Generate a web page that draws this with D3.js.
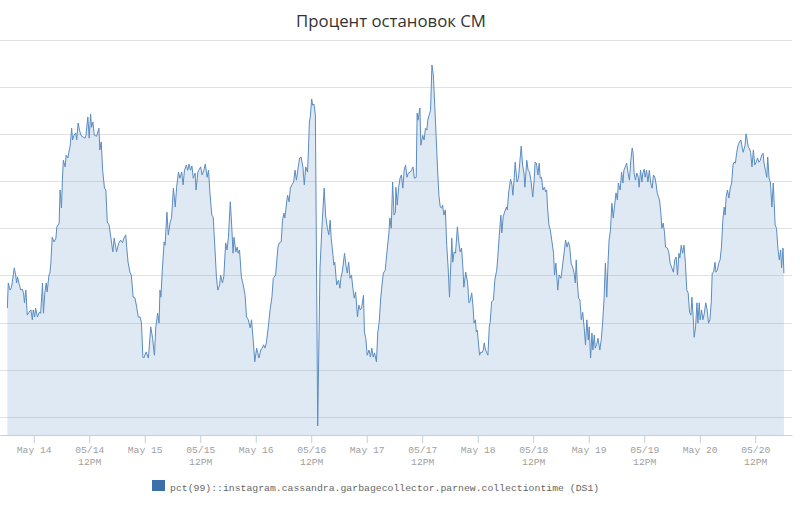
<!DOCTYPE html>
<html><head><meta charset="utf-8">
<script src="https://cdn.jsdelivr.net/npm/d3@7"></script>
<style>html,body{margin:0;padding:0;background:#fff;}svg{display:block;}</style>
</head><body><svg id="c" width="800" height="507"></svg>
<script>
const title = "Процент остановок СМ";
const seriesName = "pct(99)::instagram.cassandra.garbagecollector.parnew.collectiontime (DS1)";
// hours since 2013-05-13 18:00
const hours = [0.3,0.5,0.9,1.2,1.8,2.1,2.3,2.5,2.8,3.2,3.5,3.8,4.0,4.3,4.6,5.0,5.4,5.7,5.9,6.2,6.4,6.8,7.2,7.5,7.9,8.1,8.4,8.7,8.9,9.3,9.5,9.7,10.0,10.4,10.8,11.0,11.3,11.5,11.7,12.0,12.2,12.4,12.8,13.0,13.4,13.6,13.9,14.2,14.4,14.7,15.1,15.3,15.6,15.9,16.2,16.7,17.1,17.3,17.7,18.0,18.3,18.5,18.8,19.1,19.6,20.1,20.3,20.6,20.9,21.3,21.6,21.9,22.3,22.7,23.1,23.4,23.9,24.4,24.8,25.2,25.5,25.9,26.1,26.4,26.8,27.1,27.5,27.9,28.3,28.6,29.0,29.3,29.6,29.8,30.3,30.8,31.3,31.7,32.1,32.4,32.8,33.1,33.3,33.5,33.8,34.2,34.4,34.8,35.1,35.5,35.8,36.2,36.6,36.9,37.3,37.6,38.0,38.3,38.6,39.0,39.3,39.6,39.9,40.2,40.5,40.9,41.1,41.5,41.7,42.1,42.4,42.8,43.1,43.5,43.8,44.1,44.5,44.8,45.2,45.5,45.8,46.2,46.4,46.8,47.1,47.5,47.8,48.1,48.5,48.8,49.1,49.3,49.7,50.0,50.2,50.5,50.9,51.3,51.7,52.0,52.4,52.8,53.1,53.5,53.8,54.2,54.7,55.1,55.4,55.7,56.0,56.3,56.7,57.1,57.5,57.8,58.3,58.8,59.1,59.5,59.8,60.1,60.3,60.7,60.9,61.2,61.5,61.8,62.2,62.5,62.8,63.2,63.5,63.8,64.2,64.5,64.8,65.2,65.4,65.6,65.8,66.1,66.3,66.6,66.9,67.4,67.9,68.3,68.8,69.1,69.5,69.8,70.1,70.3,70.7,70.9,71.1,71.5,71.9,72.2,72.4,72.7,72.9,73.2,73.5,73.8,74.1,74.4,74.7,75.0,75.3,75.6,76.0,76.3,76.6,76.9,77.3,77.5,77.8,78.1,78.5,78.8,79.1,79.4,79.7,80.1,80.4,80.7,81.0,81.3,81.6,82.0,82.3,82.8,83.0,83.3,83.6,83.9,84.2,84.3,84.6,84.9,85.2,85.5,85.8,86.1,86.4,86.7,87.0,87.4,87.7,88.0,88.3,88.7,88.9,89.1,89.5,89.7,90.1,90.4,90.7,91.0,91.2,91.5,91.8,92.1,92.4,92.7,93.0,93.3,93.6,93.9,94.2,94.4,94.7,95.0,95.3,95.6,95.9,96.2,96.4,96.6,96.9,97.2,97.6,97.9,98.2,98.5,98.8,99.0,99.4,99.8,100.1,100.3,100.7,101.0,101.2,101.5,101.7,101.9,102.1,102.4,102.7,102.9,103.2,103.4,103.7,104.2,104.5,104.7,105.0,105.4,105.7,106.1,106.3,106.7,107.0,107.2,107.5,107.8,108.2,108.4,108.7,109.1,109.4,109.6,109.9,110.1,110.5,110.8,111.1,111.4,111.7,112.0,112.2,112.6,112.9,113.2,113.5,113.9,114.2,114.4,114.7,115.0,115.3,115.5,115.8,116.1,116.4,116.7,116.9,117.1,117.4,117.7,118.0,118.4,118.6,118.9,119.3,119.6,120.0,120.3,120.7,121.0,121.3,121.6,121.9,122.2,122.5,122.8,123.1,123.3,123.5,123.8,124.1,124.4,124.7,125.0,125.3,125.6,125.9,126.1,126.4,126.7,126.9,127.2,127.4,127.7,128.0,128.4,128.7,129.0,129.3,129.6,129.9,130.2,130.4,130.7,131.0,131.3,131.6,131.9,132.2,132.4,132.8,133.1,133.4,133.6,133.9,134.2,134.5,134.8,135.1,135.4,135.6,135.8,136.1,136.4,136.7,136.9,137.2,137.5,137.7,138.0,138.2,138.5,138.8,139.1,139.4,139.7,140.0,140.3,140.6,140.8,141.3,141.6,141.8,142.1,142.4,142.6,143.0,143.3,143.6,143.9,144.3,144.6,144.9,145.2,145.5,145.7,146.0,146.3,146.6,146.9,147.2,147.5,147.8,148.1,148.3,148.6,148.8,149.1,149.4,149.6,149.9,150.1,150.4,150.7,151.0,151.3,151.6,151.9,152.2,152.5,152.7,153.0,153.3,153.5,153.8,154.1,154.4,154.7,155.0,155.3,155.5,155.7,156.0,156.3,156.6,156.9,157.2,157.4,157.7,158.0,158.3,158.6,158.9,159.2,159.4,159.8,160.0,160.2,160.5,160.7,161.0,161.3,161.6,161.9,162.2,162.5,162.8,163.1,163.4,163.7,163.9,164.2,164.5,164.7,165.0,165.3,165.6,165.9,166.1,166.3,166.6,166.9,167.2,167.5,167.7,168.0,168.2];
const values = [33.1,38.4,36.9,37.5,41.6,40.1,38.4,39.7,38.4,36.9,37.1,36.3,34.2,36.9,31.6,32.2,32.7,30.6,32.7,31.2,33.1,31.2,32.2,32.0,38.4,32.0,36.3,38.4,36.5,40.1,40.5,42.6,48.1,47.1,47.9,50.3,50.7,51.1,58.1,54.3,60.2,64.4,63.0,65.5,64.9,66.1,67.6,71.2,68.7,69.7,70.2,68.7,72.3,70.8,69.7,69.3,69.1,69.7,73.6,69.1,74.2,71.4,72.5,69.7,69.5,71.2,66.6,68.3,62.3,58.5,58.1,51.3,50.7,47.9,45.0,47.9,45.0,46.9,47.5,46.9,47.9,48.6,46.0,42.8,40.7,40.1,35.4,35.2,33.1,31.2,31.2,29.9,22.7,22.5,23.8,22.5,29.1,26.7,23.1,29.1,32.0,29.9,36.9,35.4,41.1,47.1,46.4,53.4,48.6,51.3,52.2,58.5,54.5,58.7,61.9,60.6,61.9,59.2,62.3,63.4,62.3,63.6,62.3,63.2,60.6,61.7,58.1,61.9,62.3,63.0,61.3,62.3,63.6,60.8,62.3,57.5,52.8,52.4,45.4,39.7,36.9,38.0,40.1,38.4,39.7,46.9,45.4,48.1,55.6,50.7,44.7,48.1,45.0,46.0,44.7,45.4,39.7,38.0,35.8,31.2,30.6,28.9,30.6,25.7,21.7,24.6,22.5,24.2,24.6,25.3,24.6,25.7,28.9,32.7,35.4,39.4,40.1,46.0,46.9,47.1,51.7,53.2,52.2,55.6,57.0,55.6,58.5,59.2,59.8,62.3,60.2,63.0,64.9,65.1,63.0,59.2,63.0,61.9,66.6,72.5,73.6,77.4,76.1,76.3,74.0,8.1,41.6,50.0,58.5,52.8,50.0,48.6,51.7,48.1,44.3,42.2,42.8,38.0,39.0,37.3,39.4,40.7,42.2,44.7,42.2,40.5,42.8,39.4,40.1,37.3,35.2,36.5,31.2,33.7,32.7,33.1,35.8,28.0,26.7,23.1,24.2,22.7,24.6,22.7,23.6,21.7,28.0,30.1,34.8,38.0,40.5,41.1,44.3,49.0,52.2,50.0,59.8,52.8,53.4,58.7,54.9,58.7,60.6,61.3,58.5,62.3,63.4,60.8,61.7,61.9,62.3,63.0,60.6,60.8,74.4,72.9,75.5,67.6,69.7,68.7,71.2,70.8,72.9,74.0,75.0,84.6,82.5,76.1,69.7,62.8,57.0,54.5,54.3,54.9,52.8,53.9,46.4,41.6,35.4,42.8,47.9,42.8,45.0,44.7,50.3,47.1,45.0,45.8,41.6,37.5,40.7,38.6,34.2,34.4,36.3,33.3,29.9,30.6,28.0,28.4,26.3,23.1,23.8,23.6,24.2,25.7,24.2,23.1,29.1,30.1,34.4,34.8,39.0,41.1,43.3,49.0,52.8,49.0,52.4,53.4,54.5,53.9,57.7,60.4,59.2,57.0,60.8,64.0,59.8,60.6,64.0,67.4,63.4,61.7,58.7,64.4,62.3,61.9,60.2,56.6,60.2,64.0,63.8,61.3,63.8,60.6,60.8,58.1,58.7,57.7,58.1,54.3,50.7,49.6,47.5,44.7,40.1,42.6,36.9,40.1,39.4,41.8,45.0,47.5,46.0,47.1,46.0,42.6,41.8,40.7,38.4,43.3,39.0,35.2,34.8,30.6,32.2,29.1,25.3,30.6,26.3,29.1,22.5,27.8,24.2,27.4,24.6,25.3,26.7,24.2,26.3,29.9,34.8,42.6,35.4,43.3,47.5,49.6,55.3,52.2,54.9,57.5,56.0,59.6,58.1,61.9,59.6,62.3,63.0,63.8,61.7,60.2,64.4,67.0,65.9,61.7,60.2,61.7,60.8,58.7,62.3,59.8,61.7,62.5,60.8,62.3,59.8,62.3,59.6,58.5,61.3,60.8,59.2,57.5,56.0,53.2,50.0,51.1,49.0,46.0,45.8,45.0,42.6,41.8,40.7,43.3,43.9,40.1,44.7,43.7,46.4,44.7,46.4,42.6,36.9,36.3,32.2,31.6,35.4,31.0,26.9,29.1,34.2,29.9,34.2,30.6,32.7,30.6,32.0,34.2,32.7,29.9,30.6,34.4,40.5,40.7,42.8,40.7,41.1,42.6,43.3,46.0,51.7,54.5,52.8,56.6,58.1,56.4,58.5,59.6,63.4,64.0,63.8,66.1,67.6,68.3,68.7,67.0,66.1,67.6,70.0,69.1,67.2,67.0,66.1,63.0,66.6,63.4,64.0,64.9,64.0,64.4,65.5,65.9,63.8,62.3,60.8,65.1,60.6,59.6,54.5,59.6,55.3,50.7,50.0,45.8,43.3,45.4,41.6,45.8,40.5];
const tickHours = [6,18,30,42,54,66,78,90,102,114,126,138,150,162];
const tickLabels = ["May 14","05/14|12PM","May 15","05/15|12PM","May 16","05/16|12PM","May 17","05/17|12PM","May 18","05/18|12PM","May 19","05/19|12PM","May 20","05/20|12PM"];
const yGridValues = [10,20,30,40,50,60,70,80,90];
const yDomain = [6.19, 90];
const xDomainHours = [-1.29, 169.95];

const base = new Date(2013, 4, 13, 18, 0, 0);
const toDate = h => new Date(base.getTime() + h * 3600000);
const n = Math.min(hours.length, values.length);
const data = d3.range(n).map(i => ({t: toDate(hours[i]), v: values[i]}));

const svg = d3.select("#c");
const plotL = 0, plotR = 792, plotT = 39.5, plotB = 435;
const x = d3.scaleTime().domain(xDomainHours.map(toDate)).range([plotL, plotR]);
const y = d3.scaleLinear().domain(yDomain).range([plotB, plotT]);

// title
svg.append("text").attr("x", 391).attr("y", 26.5).attr("text-anchor", "middle")
  .style("font-family", "'Open Sans', 'Noto Sans', sans-serif").style("font-size", "16.8px")
  .style("fill", "#333").text(title);

// grid
svg.append("g").selectAll("line").data(yGridValues).join("line")
  .attr("x1", plotL).attr("x2", plotR)
  .attr("y1", d => Math.round(y(d)) + 0.5).attr("y2", d => Math.round(y(d)) + 0.5)
  .attr("stroke", "#e2e2e2").attr("stroke-width", 1);

// area + line
const area = d3.area().x(d => x(d.t)).y0(y(yDomain[0])).y1(d => y(d.v));
const line = d3.line().x(d => x(d.t)).y(d => y(d.v));
svg.append("path").datum(data).attr("d", area).attr("fill", "#5b8ec4").attr("fill-opacity", 0.195);
svg.append("path").datum(data).attr("d", line).attr("fill", "none")
  .attr("stroke", "#5a8cc2").attr("stroke-width", 1).attr("stroke-linejoin", "round");

// x axis
const ax = svg.append("g").attr("transform", `translate(0,${plotB})`)
  .call(d3.axisBottom(x).tickValues(tickHours.map(toDate)).tickSize(8).tickSizeOuter(0).tickFormat(""));
ax.select(".domain").attr("stroke", "#c0d0e0");
ax.selectAll(".tick line").attr("stroke", "#c0d0e0");
ax.selectAll(".tick").each(function(d, i) {
  const parts = tickLabels[i].split("|");
  const t = d3.select(this).append("text").attr("text-anchor", "middle")
    .style("font-family", "'Liberation Mono', 'DejaVu Sans Mono', monospace").style("font-size", "9.7px")
    .attr("fill", "#a0a0a0");
  parts.forEach((p, k) => t.append("tspan").attr("x", 0).attr("y", 17.5 + k * 12).text(p));
});

// legend
svg.append("rect").attr("x", 152).attr("y", 480).attr("width", 13).attr("height", 11).attr("fill", "#3a71ad");
svg.append("text").attr("x", 170).attr("y", 490.5)
  .style("font-family", "'Liberation Mono', 'DejaVu Sans Mono', monospace").style("font-size", "9.8px")
  .attr("fill", "#666").text(seriesName);
</script></body></html>
